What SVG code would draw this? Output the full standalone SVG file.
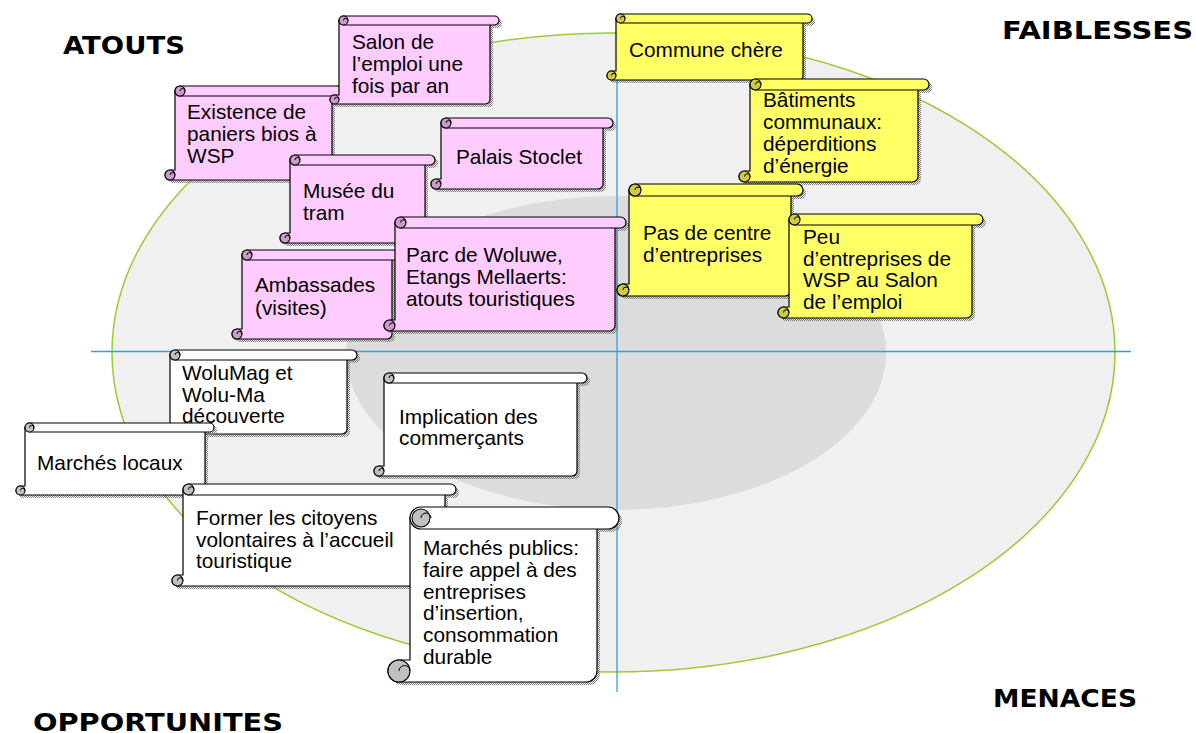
<svg xmlns="http://www.w3.org/2000/svg" xmlns:xlink="http://www.w3.org/1999/xlink" width="1196" height="733" viewBox="0 0 1196 733">
<style>
.pk{fill:#FFCCFF;stroke:#000;stroke-width:1.2}
.pkd{fill:#CC99CC;stroke:#000;stroke-width:1.1}
.yl{fill:#FFFF66;stroke:#000;stroke-width:1.2}
.yld{fill:#CCCC44;stroke:#000;stroke-width:1.1}
.wh{fill:#FFFFFF;stroke:#000;stroke-width:1.2}
.whd{fill:#C0C0C0;stroke:#000;stroke-width:1.1}
.sp{fill:none;stroke:#000;stroke-width:1}
.sh{fill:url(#dots);stroke:none}
.t{font-family:"Liberation Sans",Arial,sans-serif;font-size:20.8px;fill:#000}
.lb{font-family:"DejaVu Sans",Verdana,sans-serif;font-weight:bold;font-size:24px;fill:#000}
.ax{stroke:#29A3E0;stroke-width:1.3}
</style>
<defs>
<pattern id="dots" width="2" height="2" patternUnits="userSpaceOnUse"><rect width="1" height="1" fill="#7a7a7a"/><rect x="1" y="1" width="1" height="1" fill="#7a7a7a"/></pattern>
<path id="b1" d="M339,20.5 H490 V99.5 A4.5 4.5 0 0 1 485.5,104 H334.5 A4.5 4.5 0 0 1 334.5,95 H339 Z"/>
<path id="r1" d="M343.5,16 H494.5 A4.5 4.5 0 0 1 494.5,25 H343.5 A4.5 4.5 0 0 1 343.5,16 Z"/>
<path id="b2" d="M175,91 H332 V175 A5 5 0 0 1 327,180 H170 A5 5 0 0 1 170,170 H175 Z"/>
<path id="r2" d="M180,86 H337 A5 5 0 0 1 337,96 H180 A5 5 0 0 1 180,86 Z"/>
<path id="b3" d="M441,123 H603 V184 A5 5 0 0 1 598,189 H436 A5 5 0 0 1 436,179 H441 Z"/>
<path id="r3" d="M446,118 H608 A5 5 0 0 1 608,128 H446 A5 5 0 0 1 446,118 Z"/>
<path id="b4" d="M290,160 H425 V238 A5 5 0 0 1 420,243 H285 A5 5 0 0 1 285,233 H290 Z"/>
<path id="r4" d="M295,155 H430 A5 5 0 0 1 430,165 H295 A5 5 0 0 1 295,155 Z"/>
<path id="b5" d="M242,255 H392 V334 A5 5 0 0 1 387,339 H237 A5 5 0 0 1 237,329 H242 Z"/>
<path id="r5" d="M247,250 H397 A5 5 0 0 1 397,260 H247 A5 5 0 0 1 247,250 Z"/>
<path id="b6" d="M395,222.5 H615 V325.5 A5.5 5.5 0 0 1 609.5,331 H389.5 A5.5 5.5 0 0 1 389.5,320 H395 Z"/>
<path id="r6" d="M400.5,217 H620.5 A5.5 5.5 0 0 1 620.5,228 H400.5 A5.5 5.5 0 0 1 400.5,217 Z"/>
<path id="b7" d="M616,18.5 H803 V75.5 A4.5 4.5 0 0 1 798.5,80 H611.5 A4.5 4.5 0 0 1 611.5,71 H616 Z"/>
<path id="r7" d="M620.5,14 H807.5 A4.5 4.5 0 0 1 807.5,23 H620.5 A4.5 4.5 0 0 1 620.5,14 Z"/>
<path id="b8" d="M750,84.5 H918 V176.5 A5.5 5.5 0 0 1 912.5,182 H744.5 A5.5 5.5 0 0 1 744.5,171 H750 Z"/>
<path id="r8" d="M755.5,79 H923.5 A5.5 5.5 0 0 1 923.5,90 H755.5 A5.5 5.5 0 0 1 755.5,79 Z"/>
<path id="b9" d="M629,190 H791 V290 A6 6 0 0 1 785,296 H623 A6 6 0 0 1 623,284 H629 Z"/>
<path id="r9" d="M635,184 H797 A6 6 0 0 1 797,196 H635 A6 6 0 0 1 635,184 Z"/>
<path id="b10" d="M789,219.5 H972 V312.5 A5.5 5.5 0 0 1 966.5,318 H783.5 A5.5 5.5 0 0 1 783.5,307 H789 Z"/>
<path id="r10" d="M794.5,214 H977.5 A5.5 5.5 0 0 1 977.5,225 H794.5 A5.5 5.5 0 0 1 794.5,214 Z"/>
<path id="b11" d="M170,355 H347 V429 A5 5 0 0 1 342,434 H165 A5 5 0 0 1 165,424 H170 Z"/>
<path id="r11" d="M175,350 H352 A5 5 0 0 1 352,360 H175 A5 5 0 0 1 175,350 Z"/>
<path id="b12" d="M384,378 H577 V471 A5 5 0 0 1 572,476 H379 A5 5 0 0 1 379,466 H384 Z"/>
<path id="r12" d="M389,373 H582 A5 5 0 0 1 582,383 H389 A5 5 0 0 1 389,373 Z"/>
<path id="b13" d="M25,427.5 H205 V490.5 A4.5 4.5 0 0 1 200.5,495 H20.5 A4.5 4.5 0 0 1 20.5,486 H25 Z"/>
<path id="r13" d="M29.5,423 H209.5 A4.5 4.5 0 0 1 209.5,432 H29.5 A4.5 4.5 0 0 1 29.5,423 Z"/>
<path id="b14" d="M183,489.5 H445 V580.5 A5.5 5.5 0 0 1 439.5,586 H177.5 A5.5 5.5 0 0 1 177.5,575 H183 Z"/>
<path id="r14" d="M188.5,484 H450.5 A5.5 5.5 0 0 1 450.5,495 H188.5 A5.5 5.5 0 0 1 188.5,484 Z"/>
<path id="b15" d="M410,518 H597 V671 A11 11 0 0 1 586,682 H399 A11 11 0 0 1 399,660 H410 Z"/>
<path id="r15" d="M421,507 H608 A11 11 0 0 1 608,529 H421 A11 11 0 0 1 421,507 Z"/>
</defs>

<g id="background">
<ellipse cx="613.5" cy="352.5" rx="501.5" ry="319.5" fill="#F0F0F0" stroke="#99CC33" stroke-width="1.5"/>
<ellipse cx="616" cy="353" rx="270" ry="157" fill="#DCDCDC"/>
<line class="ax" x1="91" y1="351.5" x2="1131" y2="351.5"/>
<line class="ax" x1="617" y1="70" x2="617" y2="692"/>
</g>

<g id="labels">
<text class="lb" x="63" y="54" textLength="122" lengthAdjust="spacingAndGlyphs">ATOUTS</text>
<text class="lb" x="1002" y="39" textLength="191" lengthAdjust="spacingAndGlyphs">FAIBLESSES</text>
<text class="lb" x="993" y="707" textLength="144" lengthAdjust="spacingAndGlyphs">MENACES</text>
<text class="lb" x="33" y="731" textLength="250" lengthAdjust="spacingAndGlyphs">OPPORTUNITES</text>
</g>

<g id="connectors"></g>

<g id="n-existence">
<use xlink:href="#b2" class="sh" transform="translate(3,3)"/><use xlink:href="#r2" class="sh" transform="translate(3,3)"/>
<use xlink:href="#b2" class="pk"/><use xlink:href="#r2" class="pk"/>
<circle class="pkd" cx="180" cy="91" r="5"/><path class="sp" d="M180,91 A2.5 2.5 0 0 1 185,91"/>
<circle class="pkd" cx="170" cy="175" r="5"/><path class="sp" d="M170,175 A2.5 2.5 0 0 1 175,175"/>
<text class="t" x="187" y="119">Existence de</text>
<text class="t" x="187" y="141">paniers bios à</text>
<text class="t" x="187" y="163">WSP</text>
</g>

<g id="n-salon">
<use xlink:href="#b1" class="sh" transform="translate(3,3)"/><use xlink:href="#r1" class="sh" transform="translate(3,3)"/>
<use xlink:href="#b1" class="pk"/><use xlink:href="#r1" class="pk"/>
<circle class="pkd" cx="343.5" cy="20.5" r="4.5"/><path class="sp" d="M343.5,20.5 A2.25 2.25 0 0 1 348,20.5"/>
<circle class="pkd" cx="334.5" cy="99.5" r="4.5"/><path class="sp" d="M334.5,99.5 A2.25 2.25 0 0 1 339,99.5"/>
<text class="t" x="352" y="49">Salon de</text>
<text class="t" x="352" y="71">l’emploi une</text>
<text class="t" x="352" y="93">fois par an</text>
</g>

<g id="n-palais">
<use xlink:href="#b3" class="sh" transform="translate(3,3)"/><use xlink:href="#r3" class="sh" transform="translate(3,3)"/>
<use xlink:href="#b3" class="pk"/><use xlink:href="#r3" class="pk"/>
<circle class="pkd" cx="446" cy="123" r="5"/><path class="sp" d="M446,123 A2.5 2.5 0 0 1 451,123"/>
<circle class="pkd" cx="436" cy="184" r="5"/><path class="sp" d="M436,184 A2.5 2.5 0 0 1 441,184"/>
<text class="t" x="456" y="164">Palais Stoclet</text>
</g>

<g id="n-musee">
<use xlink:href="#b4" class="sh" transform="translate(3,3)"/><use xlink:href="#r4" class="sh" transform="translate(3,3)"/>
<use xlink:href="#b4" class="pk"/><use xlink:href="#r4" class="pk"/>
<circle class="pkd" cx="295" cy="160" r="5"/><path class="sp" d="M295,160 A2.5 2.5 0 0 1 300,160"/>
<circle class="pkd" cx="285" cy="238" r="5"/><path class="sp" d="M285,238 A2.5 2.5 0 0 1 290,238"/>
<text class="t" x="303" y="198">Musée du</text>
<text class="t" x="303" y="220">tram</text>
</g>

<g id="n-ambassades">
<use xlink:href="#b5" class="sh" transform="translate(3,3)"/><use xlink:href="#r5" class="sh" transform="translate(3,3)"/>
<use xlink:href="#b5" class="pk"/><use xlink:href="#r5" class="pk"/>
<circle class="pkd" cx="247" cy="255" r="5"/><path class="sp" d="M247,255 A2.5 2.5 0 0 1 252,255"/>
<circle class="pkd" cx="237" cy="334" r="5"/><path class="sp" d="M237,334 A2.5 2.5 0 0 1 242,334"/>
<text class="t" x="255" y="292">Ambassades</text>
<text class="t" x="255" y="315">(visites)</text>
</g>

<g id="n-parc">
<use xlink:href="#b6" class="sh" transform="translate(3,3)"/><use xlink:href="#r6" class="sh" transform="translate(3,3)"/>
<use xlink:href="#b6" class="pk"/><use xlink:href="#r6" class="pk"/>
<circle class="pkd" cx="400.5" cy="222.5" r="5.5"/><path class="sp" d="M400.5,222.5 A2.75 2.75 0 0 1 406,222.5"/>
<circle class="pkd" cx="389.5" cy="325.5" r="5.5"/><path class="sp" d="M389.5,325.5 A2.75 2.75 0 0 1 395,325.5"/>
<text class="t" x="406" y="262">Parc de Woluwe,</text>
<text class="t" x="406" y="284">Etangs Mellaerts:</text>
<text class="t" x="406" y="306">atouts touristiques</text>
</g>

<g id="n-commune">
<use xlink:href="#b7" class="sh" transform="translate(3,3)"/><use xlink:href="#r7" class="sh" transform="translate(3,3)"/>
<use xlink:href="#b7" class="yl"/><use xlink:href="#r7" class="yl"/>
<circle class="yld" cx="620.5" cy="18.5" r="4.5"/><path class="sp" d="M620.5,18.5 A2.25 2.25 0 0 1 625,18.5"/>
<circle class="yld" cx="611.5" cy="75.5" r="4.5"/><path class="sp" d="M611.5,75.5 A2.25 2.25 0 0 1 616,75.5"/>
<text class="t" x="629" y="57">Commune chère</text>
</g>

<g id="n-batiments">
<use xlink:href="#b8" class="sh" transform="translate(3,3)"/><use xlink:href="#r8" class="sh" transform="translate(3,3)"/>
<use xlink:href="#b8" class="yl"/><use xlink:href="#r8" class="yl"/>
<circle class="yld" cx="755.5" cy="84.5" r="5.5"/><path class="sp" d="M755.5,84.5 A2.75 2.75 0 0 1 761,84.5"/>
<circle class="yld" cx="744.5" cy="176.5" r="5.5"/><path class="sp" d="M744.5,176.5 A2.75 2.75 0 0 1 750,176.5"/>
<text class="t" x="763" y="107">Bâtiments</text>
<text class="t" x="763" y="129">communaux:</text>
<text class="t" x="763" y="151">déperditions</text>
<text class="t" x="763" y="173">d’énergie</text>
</g>

<g id="n-pascentre">
<use xlink:href="#b9" class="sh" transform="translate(3,3)"/><use xlink:href="#r9" class="sh" transform="translate(3,3)"/>
<use xlink:href="#b9" class="yl"/><use xlink:href="#r9" class="yl"/>
<circle class="yld" cx="635" cy="190" r="6"/><path class="sp" d="M635,190 A3 3 0 0 1 641,190"/>
<circle class="yld" cx="623" cy="290" r="6"/><path class="sp" d="M623,290 A3 3 0 0 1 629,290"/>
<text class="t" x="643" y="240">Pas de centre</text>
<text class="t" x="643" y="262">d’entreprises</text>
</g>

<g id="n-peu">
<use xlink:href="#b10" class="sh" transform="translate(3,3)"/><use xlink:href="#r10" class="sh" transform="translate(3,3)"/>
<use xlink:href="#b10" class="yl"/><use xlink:href="#r10" class="yl"/>
<circle class="yld" cx="794.5" cy="219.5" r="5.5"/><path class="sp" d="M794.5,219.5 A2.75 2.75 0 0 1 800,219.5"/>
<circle class="yld" cx="783.5" cy="312.5" r="5.5"/><path class="sp" d="M783.5,312.5 A2.75 2.75 0 0 1 789,312.5"/>
<text class="t" x="803" y="244">Peu</text>
<text class="t" x="803" y="266">d’entreprises de</text>
<text class="t" x="803" y="287">WSP au Salon</text>
<text class="t" x="803" y="309">de l’emploi</text>
</g>

<g id="n-wolumag">
<use xlink:href="#b11" class="sh" transform="translate(3,3)"/><use xlink:href="#r11" class="sh" transform="translate(3,3)"/>
<use xlink:href="#b11" class="wh"/><use xlink:href="#r11" class="wh"/>
<circle class="whd" cx="175" cy="355" r="5"/><path class="sp" d="M175,355 A2.5 2.5 0 0 1 180,355"/>
<circle class="whd" cx="165" cy="429" r="5"/><path class="sp" d="M165,429 A2.5 2.5 0 0 1 170,429"/>
<text class="t" x="182" y="380">WoluMag et</text>
<text class="t" x="182" y="402">Wolu-Ma</text>
<text class="t" x="182" y="423">découverte</text>
</g>

<g id="n-implication">
<use xlink:href="#b12" class="sh" transform="translate(3,3)"/><use xlink:href="#r12" class="sh" transform="translate(3,3)"/>
<use xlink:href="#b12" class="wh"/><use xlink:href="#r12" class="wh"/>
<circle class="whd" cx="389" cy="378" r="5"/><path class="sp" d="M389,378 A2.5 2.5 0 0 1 394,378"/>
<circle class="whd" cx="379" cy="471" r="5"/><path class="sp" d="M379,471 A2.5 2.5 0 0 1 384,471"/>
<text class="t" x="399" y="424">Implication des</text>
<text class="t" x="399" y="445">commerçants</text>
</g>

<g id="n-marcheslocaux">
<use xlink:href="#b13" class="sh" transform="translate(3,3)"/><use xlink:href="#r13" class="sh" transform="translate(3,3)"/>
<use xlink:href="#b13" class="wh"/><use xlink:href="#r13" class="wh"/>
<circle class="whd" cx="29.5" cy="427.5" r="4.5"/><path class="sp" d="M29.5,427.5 A2.25 2.25 0 0 1 34,427.5"/>
<circle class="whd" cx="20.5" cy="490.5" r="4.5"/><path class="sp" d="M20.5,490.5 A2.25 2.25 0 0 1 25,490.5"/>
<text class="t" x="37" y="470">Marchés locaux</text>
</g>

<g id="n-former">
<use xlink:href="#b14" class="sh" transform="translate(3,3)"/><use xlink:href="#r14" class="sh" transform="translate(3,3)"/>
<use xlink:href="#b14" class="wh"/><use xlink:href="#r14" class="wh"/>
<circle class="whd" cx="188.5" cy="489.5" r="5.5"/><path class="sp" d="M188.5,489.5 A2.75 2.75 0 0 1 194,489.5"/>
<circle class="whd" cx="177.5" cy="580.5" r="5.5"/><path class="sp" d="M177.5,580.5 A2.75 2.75 0 0 1 183,580.5"/>
<text class="t" x="196" y="525">Former les citoyens</text>
<text class="t" x="196" y="547">volontaires à l’accueil</text>
<text class="t" x="196" y="568">touristique</text>
</g>

<g id="n-marchespublics">
<use xlink:href="#b15" class="sh" transform="translate(3,3)"/><use xlink:href="#r15" class="sh" transform="translate(3,3)"/>
<use xlink:href="#b15" class="wh"/><use xlink:href="#r15" class="wh"/>
<circle class="whd" cx="421" cy="518" r="9"/><path class="sp" d="M421,518 A5 5 0 0 1 431,518"/>
<circle class="whd" cx="399" cy="671" r="11"/><path class="sp" d="M399,671 A5.5 5.5 0 0 1 410,671"/>
<text class="t" x="423" y="555">Marchés publics:</text>
<text class="t" x="423" y="577">faire appel à des</text>
<text class="t" x="423" y="599">entreprises</text>
<text class="t" x="423" y="620">d’insertion,</text>
<text class="t" x="423" y="642">consommation</text>
<text class="t" x="423" y="664">durable</text>
</g>
</svg>
